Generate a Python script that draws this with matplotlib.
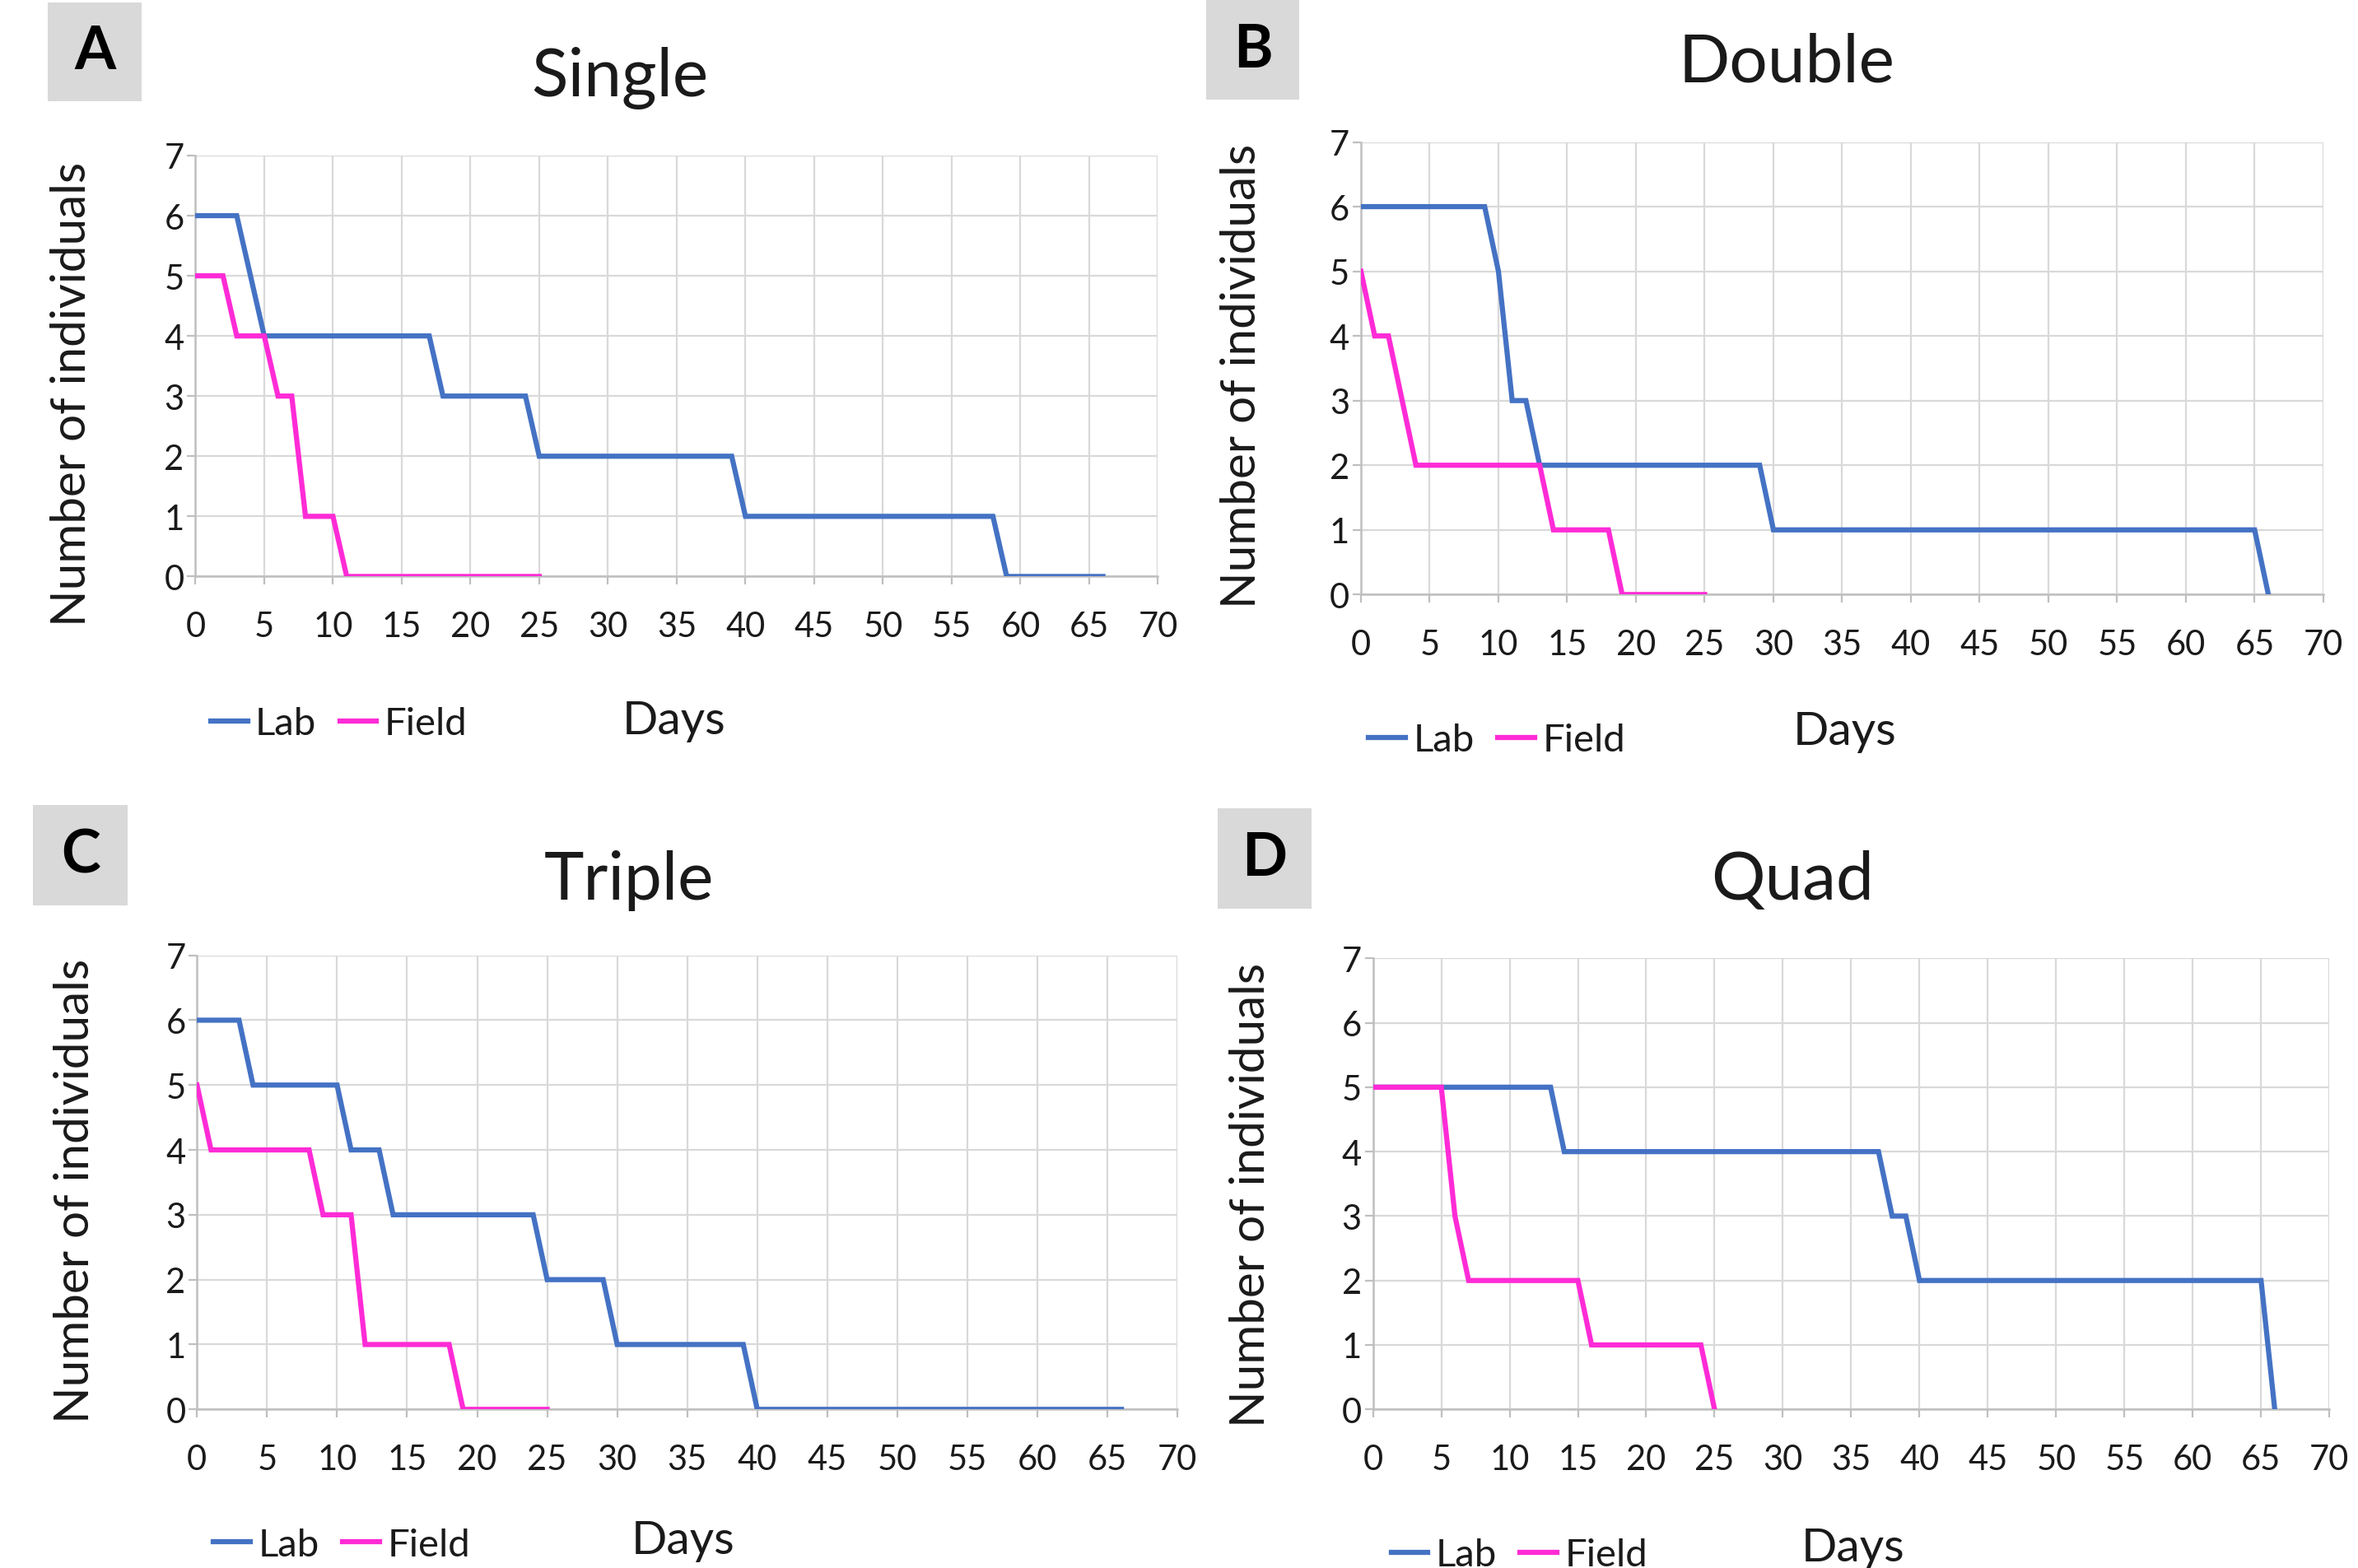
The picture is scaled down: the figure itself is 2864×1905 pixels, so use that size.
import matplotlib
matplotlib.use("Agg")
import matplotlib.pyplot as plt
from matplotlib.lines import Line2D
from matplotlib.patches import Rectangle

plt.rcParams['font.family'] = ['Lato', 'DejaVu Sans']

# ---------------- data ----------------
titles = ["Single", "Double", "Triple", "Quad"]
letters = ["A", "B", "C", "D"]

lab_a_days = [0, 3, 5, 17, 18, 24, 25, 39, 40, 58, 59, 66]
lab_a_vals = [6, 6, 4, 4, 3, 3, 2, 2, 1, 1, 0, 0]
field_a_days = [0, 2, 3, 5, 6, 7, 8, 10, 11, 25]
field_a_vals = [5, 5, 4, 4, 3, 3, 1, 1, 0, 0]

lab_b_days = [0, 9, 10, 11, 12, 13, 29, 30, 65, 66]
lab_b_vals = [6, 6, 5, 3, 3, 2, 2, 1, 1, 0]
field_b_days = [0, 1, 2, 3, 4, 13, 14, 18, 19, 25]
field_b_vals = [5, 4, 4, 3, 2, 2, 1, 1, 0, 0]

lab_c_days = [0, 3, 4, 10, 11, 13, 14, 24, 25, 29, 30, 39, 40, 66]
lab_c_vals = [6, 6, 5, 5, 4, 4, 3, 3, 2, 2, 1, 1, 0, 0]
field_c_days = [0, 1, 8, 9, 11, 12, 18, 19, 25]
field_c_vals = [5, 4, 4, 3, 3, 1, 1, 0, 0]

lab_d_days = [0, 13, 14, 37, 38, 39, 40, 65, 66]
lab_d_vals = [5, 5, 4, 4, 3, 3, 2, 2, 0]
field_d_days = [0, 5, 6, 7, 15, 16, 24, 25]
field_d_vals = [5, 5, 3, 2, 2, 1, 1, 0]

x_ticks = list(range(0, 71, 5))
y_ticks = list(range(0, 8))
series_labels = ["Lab", "Field"]

LAB_C = "#4472C4"
FIELD_C = "#FF2BD6"
GRID_C = "#D9D9D9"
TEXT_C = "#1a1a1a"

W, H = 2864, 1906
fig = plt.figure(figsize=(W / 100, H / 100), dpi=100)


def fx(px):
    return px * 1.8265 / W


def fy(py):
    return 1 - py * 1.8265 / H


# panel layout in shown-image pixel coords (left, right, bottom(y0), top(y7))
panels = [
    dict(ax=(130, 770, 384, 104), title=(412, 52), ylab=(48, 262), days=(448, 480),
         leg=(140, 482), box=(32, 2, 94, 68)),
    dict(ax=(905, 1545, 396, 95), title=(1188, 42), ylab=(826, 250), days=(1227, 487),
         leg=(910, 493), box=(802, 0, 864, 67)),
    dict(ax=(131, 783, 938, 636), title=(418, 586), ylab=(50, 792), days=(454, 1025),
         leg=(142, 1028), box=(22, 536, 85, 603)),
    dict(ax=(913, 1549, 938, 638), title=(1192, 586), ylab=(832, 795), days=(1232, 1030),
         leg=(925, 1035), box=(810, 538, 872, 605)),
]

data = [
    (lab_a_days, lab_a_vals, field_a_days, field_a_vals),
    (lab_b_days, lab_b_vals, field_b_days, field_b_vals),
    (lab_c_days, lab_c_vals, field_c_days, field_c_vals),
    (lab_d_days, lab_d_vals, field_d_days, field_d_vals),
]

for p, d, title, letter in zip(panels, data, titles, letters):
    l, r, b, t = p["ax"]
    ax = fig.add_axes([fx(l), fy(b), fx(r) - fx(l), fy(t) - fy(b)])
    ld, lv, fd, fv = d
    ax.plot(ld, lv, color=LAB_C, lw=4.5, solid_joinstyle='miter', zorder=3)
    ax.plot(fd, fv, color=FIELD_C, lw=4.5, solid_joinstyle='miter', zorder=3)
    ax.set_xlim(0, 70)
    ax.set_ylim(0, 7)
    ax.set_xticks(x_ticks)
    ax.set_yticks(y_ticks)
    ax.grid(True, color=GRID_C, lw=1.6, zorder=0)
    ax.set_axisbelow(True)
    for s in ["top", "right"]:
        ax.spines[s].set_visible(False)
    for s in ["left", "bottom"]:
        ax.spines[s].set_color("#BFBFBF")
        ax.spines[s].set_linewidth(1.8)
    ax.tick_params(axis="both", colors="#BFBFBF", length=7, width=1.6,
                   labelsize=30, labelcolor=TEXT_C)
    ax.tick_params(axis="x", pad=23)
    ax.tick_params(axis="y", pad=3)
    ax.set_facecolor("white")

    # title
    tx, ty = p["title"]
    fig.text(fx(tx), fy(ty), title, fontsize=59, ha="center", va="center", color=TEXT_C)
    # ylabel
    yx, yy = p["ylab"]
    fig.text(fx(yx), fy(yy), "Number of individuals", fontsize=42, rotation=90,
             ha="center", va="center", color=TEXT_C)
    # x label
    dx, dy = p["days"]
    fig.text(fx(dx), fy(dy), "Days", fontsize=41, ha="center", va="center", color=TEXT_C)
    # legend
    lx, ly = p["leg"]
    handles = [Line2D([], [], color=LAB_C, lw=4.5), Line2D([], [], color=FIELD_C, lw=4.5)]
    fig.legend(handles, series_labels, loc="center left", bbox_to_anchor=(fx(lx), fy(ly)),
               bbox_transform=fig.transFigure, ncol=2, frameon=False, fontsize=34,
               handlelength=0.95, handletextpad=0.2, columnspacing=0.6,
               borderaxespad=0, borderpad=0, labelcolor=TEXT_C)
    # letter box
    bx0, by0, bx1, by1 = p["box"]
    fig.patches.append(Rectangle((fx(bx0), fy(by1)), fx(bx1) - fx(bx0), fy(by0) - fy(by1),
                                 transform=fig.transFigure, facecolor="#D9D9D9",
                                 edgecolor="none", zorder=0))
    fig.text(fx((bx0 + bx1) / 2), fy((by0 + by1) / 2), letter, fontsize=52,
             fontweight="bold", ha="center", va="center", color="black")

fig.savefig("out.png", dpi=100, facecolor="white")
